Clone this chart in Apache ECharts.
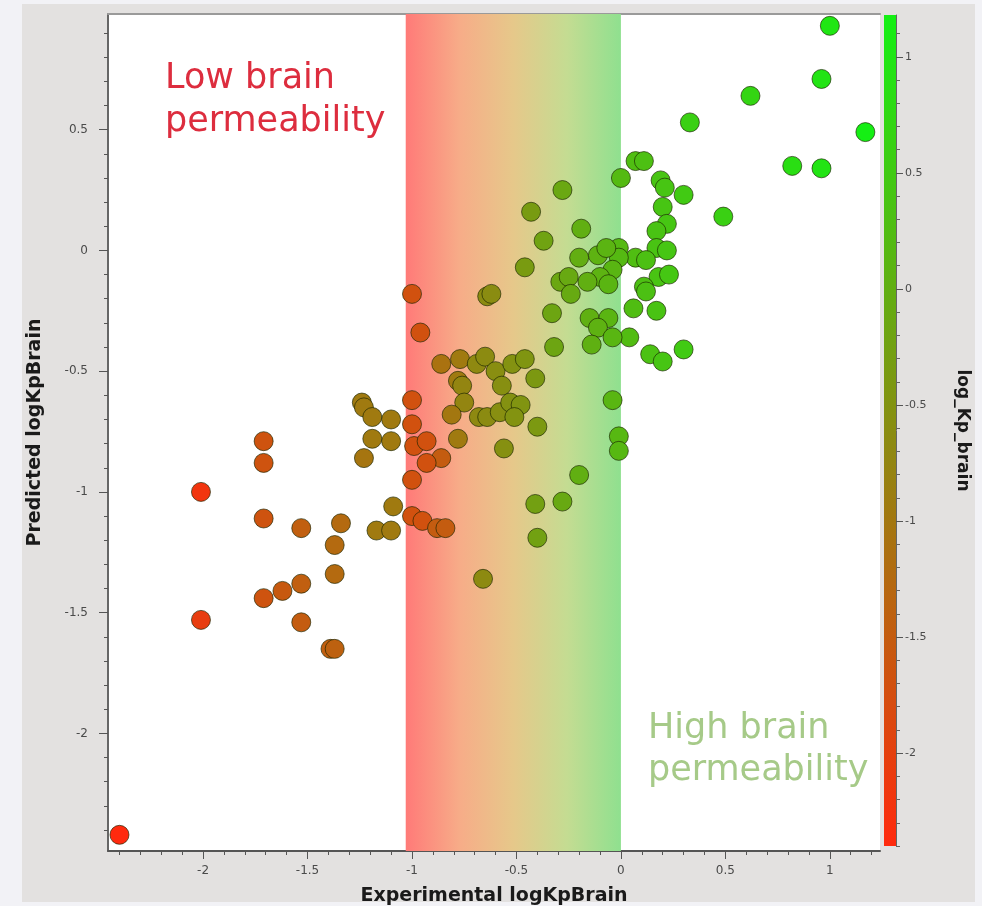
<!DOCTYPE html>
<html>
<head>
<meta charset="utf-8">
<script src="https://cdn.jsdelivr.net/npm/echarts@6/dist/echarts.min.js"></script>
<style>
  html, body { margin: 0; padding: 0; background: #f2f2f6; }
  #panel { position: absolute; left: 22px; top: 4px; width: 953px; height: 898px; background: #e3e1e0; }
  #chart { position: absolute; left: 0; top: 0; width: 982px; height: 906px; }
</style>
</head>
<body>
<div id="panel"></div>
<div id="chart"></div>
<script>
// Experimental logKpBrain (x)
const expX = [
  1.00, 0.96, 0.62, 1.17, 0.33, 0.82, 0.96, 0.49,
  0.07, 0.11, 0.00, 0.19, 0.21, 0.30, 0.20, 0.22, 0.17, 0.17, 0.22, 0.18, 0.23, 0.11, 0.12, 0.06, 0.17, 0.04, 0.14, 0.20, 0.30, 0.07, 0.12, -0.01, -0.01,
  -0.28, -0.43, -0.19, -0.37, -0.20, -0.11, -0.07, -0.46, -0.04, -0.10, -0.06, -0.29, -0.25, -0.24, -0.16, -0.33, -0.15, -0.06, -0.11, -0.14, -0.04, -0.32, -0.04, -0.01, -0.01, -0.20, -0.41, -0.28, -0.40,
  -0.64, -0.62, -0.86, -0.77, -0.69, -0.65, -0.60, -0.52, -0.46, -0.41, -0.78, -0.76, -0.57, -0.75, -0.81, -0.68, -0.64, -0.58, -0.53, -0.48, -0.51, -0.40, -0.78, -0.56, -0.66,
  -1.00, -0.96, -1.00, -1.00, -0.99, -0.93, -0.86, -0.93, -1.00, -1.00, -0.95, -0.88, -0.84,
  -1.24, -1.23, -1.19, -1.10, -1.19, -1.10, -1.23, -1.09, -1.17, -1.10,
  -2.40, -2.01, -2.01, -1.71, -1.71, -1.71, -1.71, -1.62, -1.53, -1.53, -1.53, -1.39, -1.37, -1.37, -1.37, -1.34
];
// Predicted logKpBrain (y)
const predY = [
  0.93, 0.71, 0.64, 0.49, 0.53, 0.35, 0.34, 0.14,
  0.37, 0.37, 0.30, 0.29, 0.26, 0.23, 0.18, 0.11, 0.08, 0.01, 0.00, -0.11, -0.10, -0.15, -0.17, -0.24, -0.25, -0.36, -0.43, -0.46, -0.41, -0.03, -0.04, 0.01, -0.03,
  0.25, 0.16, 0.09, 0.04, -0.03, -0.02, 0.01, -0.07, -0.08, -0.11, -0.14, -0.13, -0.11, -0.18, -0.13, -0.26, -0.28, -0.28, -0.32, -0.39, -0.36, -0.40, -0.62, -0.77, -0.83, -0.93, -1.05, -1.04, -1.19,
  -0.19, -0.18, -0.47, -0.45, -0.47, -0.44, -0.50, -0.47, -0.45, -0.53, -0.54, -0.56, -0.56, -0.63, -0.68, -0.69, -0.69, -0.67, -0.63, -0.64, -0.69, -0.73, -0.78, -0.82, -1.36,
  -0.18, -0.34, -0.62, -0.72, -0.81, -0.79, -0.86, -0.88, -0.95, -1.10, -1.12, -1.15, -1.15,
  -0.63, -0.65, -0.69, -0.70, -0.78, -0.79, -0.86, -1.06, -1.16, -1.16,
  -2.42, -1.00, -1.53, -0.79, -0.88, -1.11, -1.44, -1.41, -1.15, -1.38, -1.54, -1.65, -1.65, -1.34, -1.22, -1.13
];
// log_Kp_brain (colour value)
const colorVal = [
  1.00, 0.96, 0.70, 1.17, 0.60, 0.85, 0.96, 0.60,
  0.27, 0.31, 0.20, 0.39, 0.41, 0.50, 0.40, 0.42, 0.37, 0.37, 0.42, 0.38, 0.43, 0.31, 0.32, 0.26, 0.37, 0.24, 0.34, 0.40, 0.50, 0.27, 0.32, 0.19, 0.19,
  -0.13, -0.35, 0.00, -0.22, -0.02, 0.06, 0.10, -0.36, 0.13, 0.07, 0.11, -0.14, -0.10, -0.09, 0.01, -0.18, 0.02, 0.11, 0.06, 0.03, 0.13, -0.17, 0.13, 0.16, 0.16, 0.00, -0.26, -0.10, -0.25,
  -0.64, -0.62, -1.10, -0.95, -0.69, -0.65, -0.60, -0.52, -0.46, -0.41, -0.95, -0.76, -0.57, -0.75, -1.00, -0.68, -0.64, -0.58, -0.53, -0.48, -0.51, -0.40, -0.95, -0.56, -0.66,
  -1.70, -1.70, -1.70, -1.70, -1.70, -1.70, -1.50, -1.70, -1.70, -1.70, -1.70, -1.50, -1.50,
  -0.95, -0.95, -0.95, -0.95, -0.95, -0.95, -1.05, -0.95, -0.95, -0.95,
  -2.40, -2.20, -2.05, -1.65, -1.65, -1.65, -1.65, -1.55, -1.45, -1.45, -1.50, -1.45, -1.40, -1.25, -1.25, -1.25
];
// Tick labels
const xTicks = [-2, -1.5, -1, -0.5, 0, 0.5, 1];
const yTicks = [-2, -1.5, -1, -0.5, 0, 0.5];
const cTicks = [-2, -1.5, -1, -0.5, 0, 0.5, 1];
// Highlighted band (experimental logKpBrain range)
const band = [-1.03, 0];
const colorRange = [-2.4, 1.18];

function minorList(lo, hi) {
  const out = [];
  for (let k = Math.ceil(lo * 10); k <= Math.floor(hi * 10); k++) {
    if (k % 5 !== 0) out.push(k / 10);
  }
  return out;
}

const X_MIN = -2.455, X_MAX = 1.24, Y_MIN = -2.487, Y_MAX = 0.979;
const FONT = '"DejaVu Sans", sans-serif';
const labelStyle = { color: '#4a4a4a', fontSize: 12, fontFamily: FONT };
const titleStyle = { fontFamily: FONT, fontWeight: 'bold', fontSize: 19, color: '#1a1a1a' };

const chart = echarts.init(document.getElementById('chart'), null, { renderer: 'canvas' });

const pts = expX.map((x, i) => [x, predY[i], colorVal[i]]);

const option = {
  backgroundColor: 'transparent',
  animation: false,
  grid: [
    { left: 108, top: 14, width: 772, height: 837, show: true, backgroundColor: '#ffffff', borderWidth: 0,
      containLabel: false, outerBoundsMode: 'none' },
    { left: 884, top: 15, width: 12, height: 831, show: true, borderWidth: 0,
      containLabel: false, outerBoundsMode: 'none',
      backgroundColor: new echarts.graphic.LinearGradient(0, 0, 0, 1, [
        { offset: 0, color: '#14f014' }, { offset: 1, color: '#ff2a0e' }
      ]) }
  ],
  xAxis: [
    { gridIndex: 0, type: 'value', min: X_MIN, max: X_MAX, position: 'bottom',
      name: 'Experimental logKpBrain', nameLocation: 'middle', nameGap: 36,
      nameTextStyle: titleStyle,
      axisLine: { onZero: false, lineStyle: { color: '#555', width: 2 } },
      axisTick: { customValues: xTicks, length: 8, lineStyle: { color: '#555' } },
      axisLabel: { customValues: xTicks, margin: 14, ...labelStyle },
      splitLine: { show: false } },
    { gridIndex: 0, type: 'value', min: X_MIN, max: X_MAX, position: 'bottom',
      axisLine: { show: false, onZero: false },
      axisTick: { customValues: minorList(X_MIN, X_MAX), length: 4, lineStyle: { color: '#555' } },
      axisLabel: { show: false }, splitLine: { show: false } },
    { gridIndex: 0, type: 'value', min: X_MIN, max: X_MAX, position: 'top',
      axisLine: { onZero: false, lineStyle: { color: '#9a9a9a', width: 2 } },
      axisTick: { show: false }, axisLabel: { show: false }, splitLine: { show: false } },
    { gridIndex: 1, type: 'value', min: 0, max: 1, show: false }
  ],
  yAxis: [
    { gridIndex: 0, type: 'value', min: Y_MIN, max: Y_MAX, position: 'left',
      name: 'Predicted logKpBrain', nameLocation: 'middle', nameGap: 63,
      nameTextStyle: titleStyle,
      axisLine: { onZero: false, lineStyle: { color: '#666', width: 2 } },
      axisTick: { customValues: yTicks, length: 9, lineStyle: { color: '#555' } },
      axisLabel: { customValues: yTicks, margin: 20, ...labelStyle },
      splitLine: { show: false } },
    { gridIndex: 0, type: 'value', min: Y_MIN, max: Y_MAX, position: 'left',
      axisLine: { show: false, onZero: false },
      axisTick: { customValues: minorList(Y_MIN, Y_MAX), length: 4, lineStyle: { color: '#555' } },
      axisLabel: { show: false }, splitLine: { show: false } },
    { gridIndex: 1, type: 'value', min: colorRange[0], max: colorRange[1], position: 'right',
      name: 'log_Kp_brain', nameLocation: 'middle', nameGap: 58, nameRotate: -90,
      nameTextStyle: { ...titleStyle, fontSize: 17 },
      axisLine: { onZero: false, lineStyle: { color: '#666', width: 1 } },
      axisTick: { customValues: cTicks, length: 7, lineStyle: { color: '#555' } },
      axisLabel: { customValues: cTicks, margin: 9, ...labelStyle, fontSize: 11 },
      splitLine: { show: false } },
    { gridIndex: 1, type: 'value', min: colorRange[0], max: colorRange[1], position: 'right',
      axisLine: { show: false, onZero: false },
      axisTick: { customValues: minorList(colorRange[0], colorRange[1]), length: 4, lineStyle: { color: '#666' } },
      axisLabel: { show: false }, splitLine: { show: false } }
  ],
  visualMap: {
    type: 'continuous', show: false, seriesIndex: 1, dimension: 2,
    min: colorRange[0], max: colorRange[1],
    inRange: { color: ['#ff2a0e', '#14f014'] }
  },
  graphic: [
    { type: 'text', left: 165, top: 57, z: 100,
      style: { text: 'Low brain\npermeability', font: '35px "DejaVu Sans", sans-serif', fill: '#dd2d3e', lineHeight: 43 } },
    { type: 'text', left: 648, top: 708, z: 100,
      style: { text: 'High brain\npermeability', font: '35px "DejaVu Sans", sans-serif', fill: '#a6ca88', lineHeight: 42 } }
  ],
  series: [
    { type: 'scatter', xAxisIndex: 0, yAxisIndex: 0, data: [], z: 1, silent: true,
      markArea: { silent: true,
        itemStyle: { color: new echarts.graphic.LinearGradient(0, 0, 1, 0, [
          { offset: 0, color: '#ff7a78' }, { offset: 0.25, color: '#f7ac88' },
          { offset: 0.5, color: '#e6c88a' }, { offset: 0.75, color: '#c4dc92' },
          { offset: 1, color: '#8fe08f' }
        ]) },
        data: [[{ xAxis: band[0] }, { xAxis: band[1] }]] } },
    { type: 'scatter', xAxisIndex: 0, yAxisIndex: 0, z: 5, symbolSize: 19, data: pts,
      itemStyle: { opacity: 1, borderColor: 'rgba(25,35,0,0.65)', borderWidth: 1 } },
    { type: 'scatter', xAxisIndex: 3, yAxisIndex: 2, data: [] }
  ]
};
chart.setOption(option);
</script>
</body>
</html>
